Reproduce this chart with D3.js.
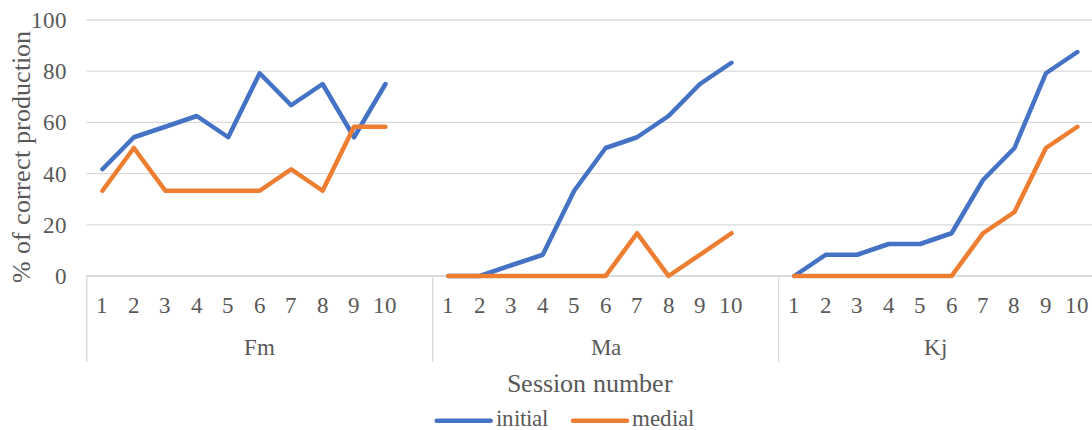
<!DOCTYPE html>
<html>
<head>
<meta charset="utf-8">
<script src="https://cdn.jsdelivr.net/npm/d3@7"></script>
<style>
  @font-face {
    font-family: "ChartSerif";
    src: local("Liberation Serif"), local("LiberationSerif"), local("LiberationSerif-Regular"),
         local("Tinos"), local("Tinos-Regular"), local("Times New Roman"), local("TimesNewRomanPSMT"),
         local("DejaVu Serif"), local("DejaVuSerif"), local("Noto Serif"), local("NotoSerif-Regular");
  }
  html, body { margin: 0; padding: 0; background: #fff; }
  svg text { font-family: "ChartSerif", "Liberation Serif", "DejaVu Serif", serif !important; fill: #595959; }
</style>
</head>
<body>
<svg id="chart" width="1092" height="430"></svg>
<script>
// Participants (outer category level) and sessions (inner level)
const groups = ["Fm", "Ma", "Kj"];
const sessions = ["1", "2", "3", "4", "5", "6", "7", "8", "9", "10"];
const yTicks = [0, 20, 40, 60, 80, 100];
const seriesNames = ["initial", "medial"];
const seriesColors = ["#4472C4", "#ED7D31"];

// % of correct production per session
const fmInitial = [41.7, 54.2, 58.3, 62.5, 54.2, 79.2, 66.7, 75, 54.2, 75];
const fmMedial  = [33.3, 50, 33.3, 33.3, 33.3, 33.3, 41.7, 33.3, 58.3, 58.3];
const maInitial = [0, 0, 4.2, 8.3, 33.3, 50, 54.2, 62.5, 75, 83.3];
const maMedial  = [0, 0, 0, 0, 0, 0, 16.7, 0, 8.3, 16.7];
const kjInitial = [0, 8.3, 8.3, 12.5, 12.5, 16.7, 37.5, 50, 79.2, 87.5];
const kjMedial  = [0, 0, 0, 0, 0, 0, 16.7, 25, 50, 58.3];

const initialByGroup = [fmInitial, maInitial, kjInitial];
const medialByGroup = [fmMedial, maMedial, kjMedial];

const FONT = '"ChartSerif", "Liberation Serif", "DejaVu Serif", serif';
const svg = d3.select("#chart");
const plot = { left: 86.7, right: 1093.1, top: 20, bottom: 276 };

// Category slots: ten sessions per participant with an empty slot between participants
const slots = [];
groups.forEach((g, gi) => {
  sessions.forEach(s => slots.push(g + "|" + s));
  if (gi < groups.length - 1) slots.push(g + "|gap");
});

const x = d3.scaleBand().domain(slots).range([plot.left, plot.right]);
const y = d3.scaleLinear().domain([0, 100]).range([plot.bottom, plot.top]);
const cx = key => x(key) + x.bandwidth() / 2;

// Horizontal gridlines
svg.append("g")
  .selectAll("line")
  .data(yTicks)
  .join("line")
  .attr("x1", plot.left).attr("x2", plot.right)
  .attr("y1", d => y(d)).attr("y2", d => y(d))
  .attr("stroke", "#D9D9D9").attr("stroke-width", 1.3);

// Y axis tick labels
const yAxis = d3.axisLeft(y).tickValues(yTicks).tickSize(0).tickPadding(0);
const yG = svg.append("g").attr("transform", "translate(67,0)").call(yAxis)
  .attr("font-family", FONT);
yG.select(".domain").remove();
yG.selectAll("text")
  .attr("font-size", 22.7)
  .attr("fill", "#595959")
  .attr("dy", "0.33em");

// Y axis title
svg.append("text")
  .attr("transform", "translate(30,157) rotate(-90)")
  .attr("text-anchor", "middle")
  .attr("font-size", 26.2)
  .text("% of correct production");

// Multi-level category axis: session numbers and participant labels
const xAxis = d3.axisBottom(x).tickSize(0).tickFormat(d => d.endsWith("gap") ? "" : d.split("|")[1]);
const xG = svg.append("g").attr("transform", `translate(0,${plot.bottom})`).call(xAxis)
  .attr("font-family", FONT);
xG.select(".domain").remove();
xG.selectAll("text")
  .attr("font-size", 22.7)
  .attr("fill", "#595959")
  .attr("y", 37)
  .attr("dy", 0);

const groupStart = g => x(g + "|1");
const groupEnd = (g, gi) => gi < groups.length - 1 ? x(groups[gi + 1] + "|1") : plot.right;

// Group separators
svg.append("g")
  .selectAll("line")
  .data(groups)
  .join("line")
  .attr("x1", d => groupStart(d)).attr("x2", d => groupStart(d))
  .attr("y1", plot.bottom).attr("y2", 362)
  .attr("stroke", "#D9D9D9").attr("stroke-width", 1.3);

// Axis baseline
svg.append("line")
  .attr("x1", plot.left).attr("x2", plot.right)
  .attr("y1", plot.bottom).attr("y2", plot.bottom)
  .attr("stroke", "#D9D9D9").attr("stroke-width", 1.5);

svg.append("g")
  .selectAll("text")
  .data(groups)
  .join("text")
  .attr("x", (d, i) => (groupStart(d) + groupEnd(d, i)) / 2)
  .attr("y", 355)
  .attr("text-anchor", "middle")
  .attr("font-size", 22.7)
  .text(d => d);

// X axis title
svg.append("text")
  .attr("x", (plot.left + plot.right) / 2)
  .attr("y", 392)
  .attr("text-anchor", "middle")
  .attr("font-size", 26.2)
  .text("Session number");

// Lines, one segment per participant so the series break between groups
const line = d3.line().x(d => cx(d.key)).y(d => y(d.value));
const seriesData = [initialByGroup, medialByGroup];
seriesData.forEach((byGroup, si) => {
  groups.forEach((g, gi) => {
    const pts = byGroup[gi].map((v, i) => ({ key: g + "|" + sessions[i], value: v }));
    svg.append("path")
      .datum(pts)
      .attr("d", line)
      .attr("fill", "none")
      .attr("stroke", seriesColors[si])
      .attr("stroke-width", 4.5)
      .attr("stroke-linecap", "round")
      .attr("stroke-linejoin", "round");
  });
});

// Legend
const legendItems = [
  { name: seriesNames[0], color: seriesColors[0], x0: 436.7 },
  { name: seriesNames[1], color: seriesColors[1], x0: 573 }
];
const lg = svg.append("g");
legendItems.forEach(it => {
  lg.append("line")
    .attr("x1", it.x0).attr("x2", it.x0 + 54)
    .attr("y1", 420.7).attr("y2", 420.7)
    .attr("stroke", it.color).attr("stroke-width", 4.5)
    .attr("stroke-linecap", "round");
  lg.append("text")
    .attr("x", it.x0 + 59)
    .attr("y", 426)
    .attr("font-size", 22.7)
    .text(it.name);
});
</script>
</body>
</html>
